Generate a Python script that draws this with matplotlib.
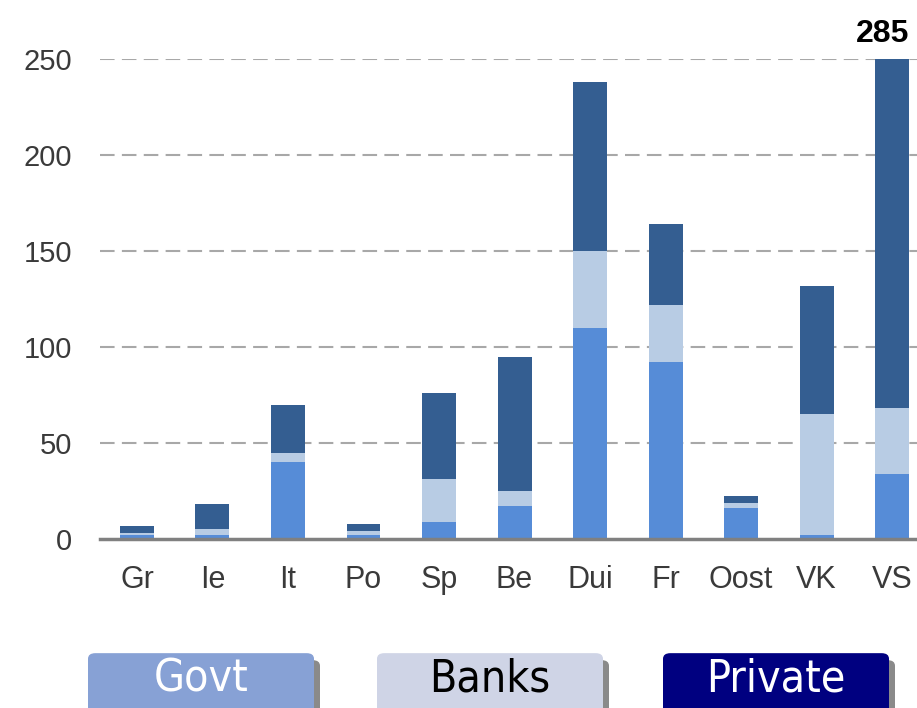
"""Stacked exposure bars by country (Govt / Banks / Private)."""

import matplotlib.pyplot as plt
import numpy as np
from matplotlib.patches import FancyBboxPatch

countries = ["Gr", "Ie", "It", "Po", "Sp", "Be", "Dui", "Fr", "Oost", "VK", "VS"]
govt = [2, 2, 40, 2, 9, 17, 110, 92, 16, 2, 34]
banks = [1, 3, 5, 2, 22, 8, 40, 30, 3, 63, 34]
private = [4, 13, 25, 4, 45, 70, 88, 42, 3.5, 67, 217]
y_ticks = [0, 50, 100, 150, 200, 250]

series = [("Govt", govt, "#568cd7"), ("Banks", banks, "#b8cce4"),
          ("Private", private, "#345e91")]
legend_style = {"Govt": ("#87a1d5", "white"),
                "Banks": ("#cfd4e6", "black"),
                "Private": ("#000080", "white")}

plt.rcParams["font.family"] = ["Liberation Sans", "DejaVu Sans"]

fig = plt.figure(figsize=(9.17, 7.08), dpi=100)
ax = fig.add_axes([0.109, 0.2387, 0.891, 0.678])

x = np.arange(len(countries))
bottom = np.zeros(len(countries))
for name, vals, color in series:
    vals = np.array(vals, dtype=float)
    ax.bar(x, vals, width=0.45, bottom=bottom, color=color, zorder=3)
    bottom += vals

ax.set_ylim(0, 250)
ax.set_xlim(-0.49, 10.33)
ax.set_yticks(y_ticks)
ax.set_xticks(x, countries)
for v in y_ticks[1:]:
    ax.axhline(v, color="#a8a8a8", lw=1.5, ls=(0, (7, 3.5)), zorder=1)
ax.axhline(0, color="#808080", lw=2.5, zorder=4, clip_on=False)

for s in ax.spines.values():
    s.set_visible(False)
ax.tick_params(length=0, colors="#3a3a3a")
ax.tick_params(axis="y", pad=20, labelsize=21)
ax.tick_params(axis="x", pad=19, labelsize=22)

# total that runs past the axis top
ax.text(x[-1] - 0.12, 250 + 5, f"{bottom[-1]:.0f}", ha="center", va="bottom",
        fontsize=23, fontweight="bold", color="black", clip_on=False)

# legend buttons with drop shadow
W, H = 917, 708
box_lefts = [88, 377, 663]
for (name, _, _), left in zip(series, box_lefts):
    face, txt = legend_style[name]
    shadow = FancyBboxPatch(((left + 6) / W, -0.02), 226 / W, (708 - 660 + 14) / H,
                            boxstyle="round,pad=0,rounding_size=0.008",
                            transform=fig.transFigure, fc="#8a8a8a", ec="none")
    box = FancyBboxPatch((left / W, -0.02), 226 / W, (708 - 653 + 14) / H,
                         boxstyle="round,pad=0,rounding_size=0.008",
                         transform=fig.transFigure, fc=face, ec="none")
    fig.patches.extend([shadow, box])
    fig.text((left + 113) / W, 1 - 679 / H, name, ha="center", va="center",
             color=txt, fontsize=32, fontstretch="condensed",
             family=["DejaVu Sans"])

fig.savefig("out.png", dpi=100)
